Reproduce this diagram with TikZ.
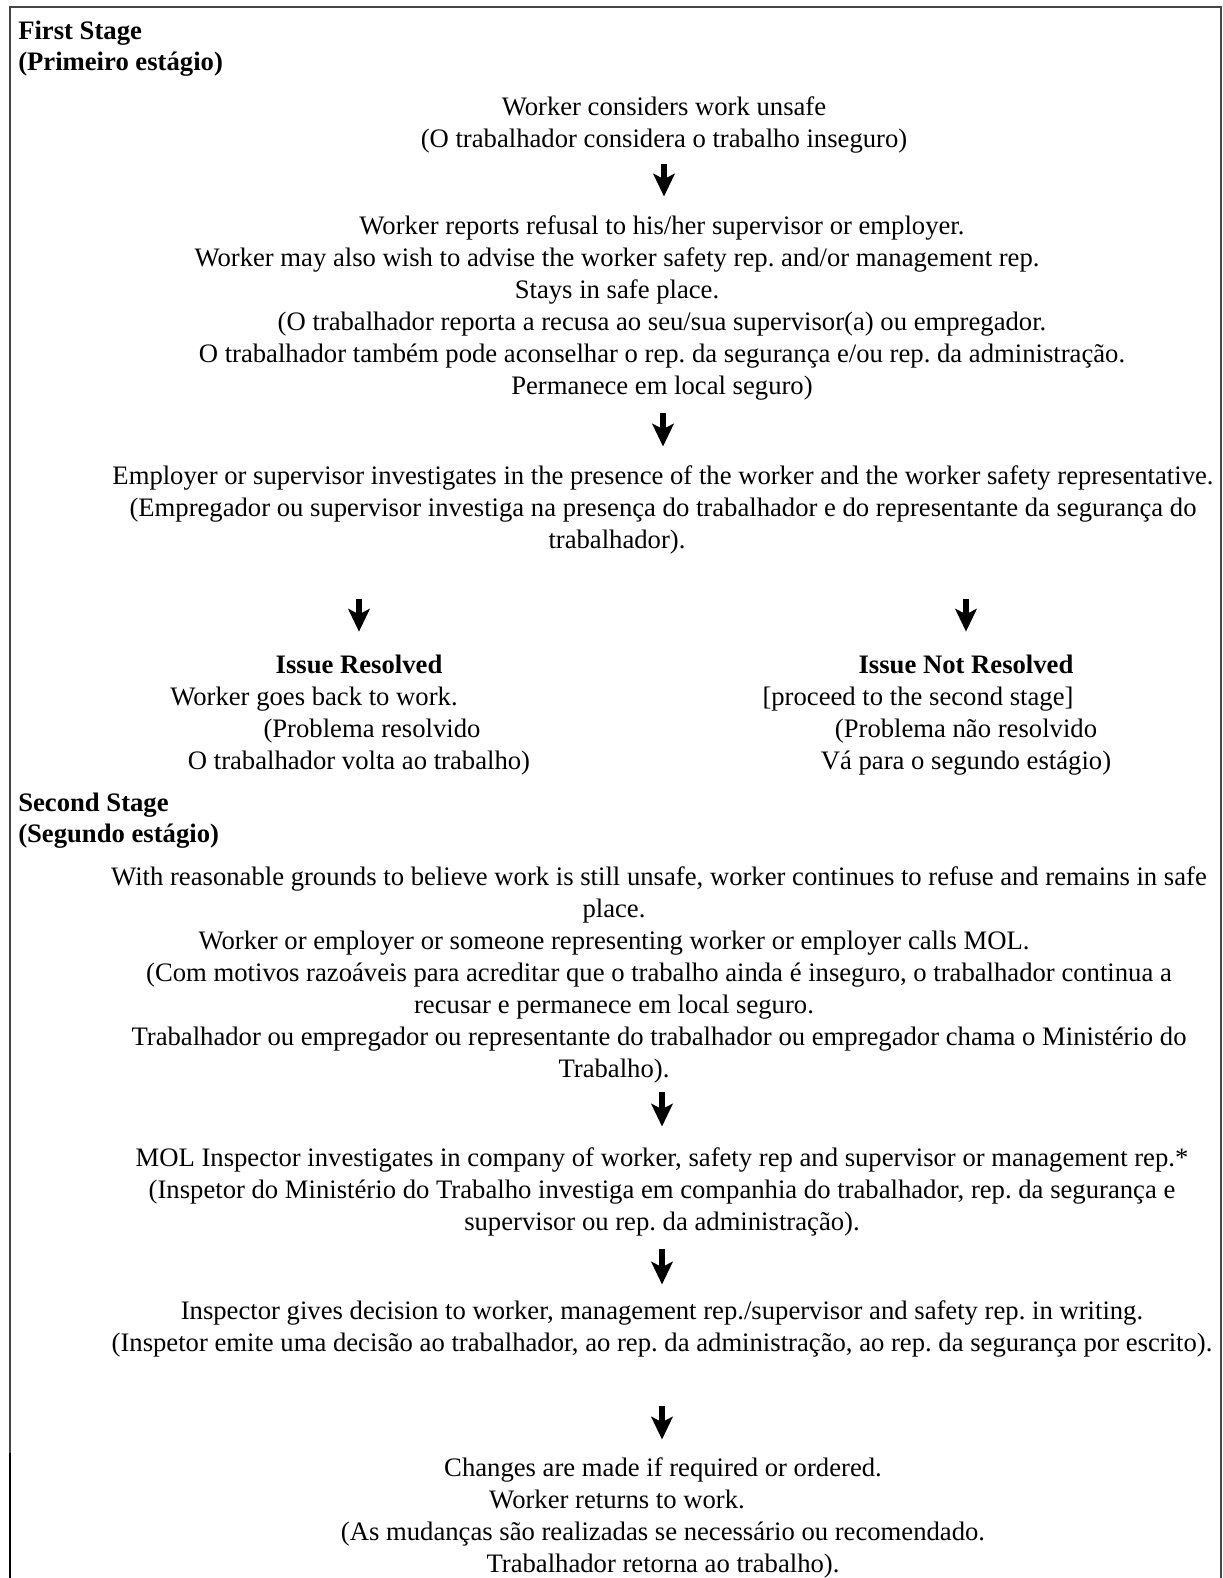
\documentclass[tikz,border=0pt]{standalone}
\usepackage{fontspec}
\setmainfont{Liberation Serif}
\usetikzlibrary{arrows.meta, positioning}
\definecolor{framegray}{RGB}{70, 70, 70}
\frenchspacing
\newcommand{\padright}[1]{\hspace*{#1}\mbox{}}

\begin{document}
\begin{tikzpicture}[x=0.75pt, y=-0.75pt,
        stepnote/.style={align=center, inner sep=0pt, font=\fontsize{20}{24}\selectfont},
        stagehead/.style={align=left, anchor=west, inner sep=0pt, font=\fontsize{20}{23.5}\selectfont\bfseries},
        flow/.style={-{Stealth[length=17pt, width=16pt, inset=4pt]}, line width=4pt}
    ]
        \useasboundingbox (0, 0) rectangle (1222, 1578);
        \draw[framegray, line width=1.5pt] (10, 1578) -- (10, 7) -- (1221, 7) -- (1221, 1578);
        \draw[black, line width=1.5pt] (10, 1453) -- (10, 1578);

        \node[stagehead] (stage1) at (18, 49) {First Stage\\(Primeiro estágio)};

        \node[stepnote] (s1) at (664, 125) {Worker considers work unsafe\\(O trabalhador considera o trabalho inseguro)};
        \node[stepnote] (s2) at (662, 308) {Worker reports refusal to his/her supervisor or employer.\\
            Worker may also wish to advise the worker safety rep. and/or management rep.\padright{67.5pt}\\
            Stays in safe place.\padright{67.5pt}\\
            (O trabalhador reporta a recusa ao seu/sua supervisor(a) ou empregador.\\
            O trabalhador também pode aconselhar o rep. da segurança e/ou rep. da administração.\\
            Permanece em local seguro)};
        \node[stepnote] (s3) at (663, 510) {Employer or supervisor investigates in the presence of the worker and the worker safety representative.\\
            (Empregador ou supervisor investiga na presença do trabalhador e do representante da segurança do\\
            trabalhador).\padright{69pt}};

        \node[stepnote] (s4l) at (359, 715) {\textbf{Issue Resolved}\\
            Worker goes back to work.\padright{67.5pt}\\
            \hspace*{19.5pt}(Problema resolvido\\
            O trabalhador volta ao trabalho)};
        \node[stepnote] (s4r) at (966, 715) {\textbf{Issue Not Resolved}\\
            {[}proceed to the second stage{]}\padright{72pt}\\
            (Problema não resolvido\\
            Vá para o segundo estágio)};

        \node[stagehead] (stage2) at (18, 821) {Second Stage\\(Segundo estágio)};

        \node[stepnote] (s5) at (659, 975) {With reasonable grounds to believe work is still unsafe, worker continues to refuse and remains in safe\\
            place.\padright{67.5pt}\\
            Worker or employer or someone representing worker or employer calls MOL.\padright{67.5pt}\\
            (Com motivos razoáveis para acreditar que o trabalho ainda é inseguro, o trabalhador continua a\\
            recusar e permanece em local seguro.\padright{67.5pt}\\
            Trabalhador ou empregador ou representante do trabalhador ou empregador chama o Ministério do\\
            Trabalho).\padright{67.5pt}};
        \node[stepnote] (s6) at (662, 1192) {MOL Inspector investigates in company of worker, safety rep and supervisor or management rep.*\\
            (Inspetor do Ministério do Trabalho investiga em companhia do trabalhador, rep. da segurança e\\
            supervisor ou rep. da administração).};
        \node[stepnote] (s7) at (662, 1329) {Inspector gives decision to worker, management rep./supervisor and safety rep. in writing.\\
            (Inspetor emite uma decisão ao trabalhador, ao rep. da administração, ao rep. da segurança por escrito).};
        \node[stepnote] (s8) at (663, 1518) {Changes are made if required or ordered.\\
            Worker returns to work.\padright{69pt}\\
            (As mudanças são realizadas se necessário ou recomendado.\\
            Trabalhador retorna ao trabalho).};

        \draw[flow, shorten <=7.5pt, shorten >=14.25pt] (s1.south) -- (s1.south |- s2.north);
        \draw[flow, shorten <=9pt, shorten >=14.25pt] (s3.north |- s2.south) -- (s3.north);
        \draw[flow, shorten <=33pt, shorten >=17.25pt] (s4l.north |- s3.south) -- (s4l.north);
        \draw[flow, shorten <=33pt, shorten >=17.25pt] (s4r.north |- s3.south) -- (s4r.north);
        \draw[flow, shorten <=6pt, shorten >=15.75pt] (s6.north |- s5.south) -- (s6.north);
        \draw[flow, shorten <=9pt, shorten >=12pt] (s7.north |- s6.south) -- (s7.north);
        \draw[flow, shorten <=36pt, shorten >=13.5pt] (s7.south) -- (s7.south |- s8.north);
    \end{tikzpicture}
\end{document}
